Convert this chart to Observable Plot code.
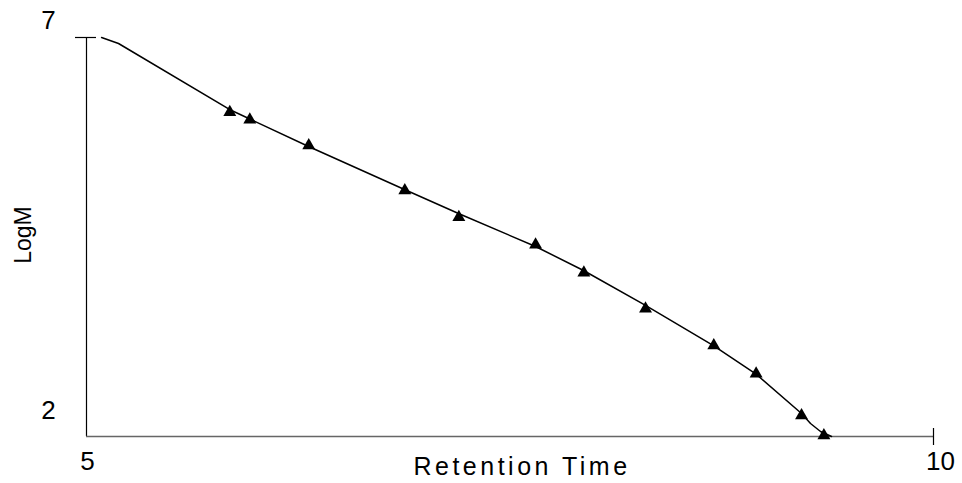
<!DOCTYPE html>
<html>
<head>
<meta charset="utf-8">
<script src="https://cdn.jsdelivr.net/npm/d3@7"></script>
<script src="https://cdn.jsdelivr.net/npm/@observablehq/plot@0.6"></script>
<style>
  html, body { margin: 0; padding: 0; background: #fff; }
  #chart svg { display: block; }
</style>
</head>
<body>
<div id="chart"></div>
<script>
// Calibration standards (retention time, LogM)
const stdTime = [5.846, 5.964, 6.312, 6.879, 7.198, 7.651, 7.936, 8.300, 8.703, 8.953, 9.221, 9.353];
const stdLogM = [6.064, 5.969, 5.647, 5.083, 4.748, 4.402, 4.051, 3.600, 3.140, 2.786, 2.263, 2.013];

// Fitted calibration curve
const fitTime = [5.089, 5.189, 5.844, 6.311, 6.877, 7.196, 7.651, 7.934, 8.300, 8.701, 8.955, 9.221, 9.274, 9.333, 9.398];
const fitLogM = [7.000, 6.925, 6.098, 5.634, 5.095, 4.794, 4.381, 4.080, 3.642, 3.140, 2.777, 2.288, 2.163, 2.063, 2.000];

const xTicks = [5, 10];
const yTicks = [2, 7];
const xTitle = "Retention Time";
const yTitle = "LogM";

const standards = stdTime.map((t, i) => ({t, m: stdLogM[i]}));
const fit = fitTime.map((t, i) => ({t, m: fitLogM[i]}));

const font = "'Liberation Sans', Arial, sans-serif";

const chart = Plot.plot({
  width: 962,
  height: 483,
  marginLeft: 86,
  marginRight: 29,
  marginTop: 37,
  marginBottom: 47,
  style: {fontFamily: font, background: "#fff", color: "#000"},
  x: {domain: [5, 10], axis: null},
  y: {domain: [2, 7], axis: null},
  marks: [
    // y axis line
    Plot.ruleX([xTicks[0]], {y1: yTicks[0], y2: yTicks[1], stroke: "#000", strokeWidth: 1.2}),
    // x axis line
    Plot.ruleY([yTicks[0]], {x1: xTicks[0], x2: xTicks[1], stroke: "#666", strokeWidth: 1.5}),
    // tick at top of y axis
    Plot.ruleY([yTicks[1]], {x1: xTicks[0], x2: xTicks[0], insetLeft: -11, insetRight: -10, stroke: "#000", strokeWidth: 1.2}),
    // tick at right end of x axis
    Plot.ruleX([xTicks[1]], {y1: yTicks[0], y2: yTicks[0], insetTop: -8, insetBottom: -9, stroke: "#000", strokeWidth: 1.2}),
    // fitted curve
    Plot.line(fit, {x: "t", y: "m", curve: "linear", stroke: "#000", strokeWidth: 1.5}),
    // standards
    Plot.dot(standards, {x: "t", y: "m", symbol: "triangle", r: 4.8, fill: "#000", stroke: "none"}),
    // y tick labels
    Plot.text([yTicks[1]], {x: xTicks[0], y: d => d, text: d => String(d), dx: -38, dy: -17, fontSize: 26, fill: "#000"}),
    Plot.text([yTicks[0]], {x: xTicks[0], y: d => d, text: d => String(d), dx: -38, dy: -26, fontSize: 26, fill: "#000"}),
    // x tick labels
    Plot.text([xTicks[0]], {x: d => d, y: yTicks[0], text: d => String(d), dx: 1, dy: 25, fontSize: 26, fill: "#000"}),
    Plot.text([xTicks[1]], {x: d => d, y: yTicks[0], text: d => String(d), dx: 7, dy: 25, fontSize: 26, fill: "#000"}),
    // axis titles
    Plot.text([xTitle], {x: 7.5, y: yTicks[0], text: d => d, dx: 12, dy: 30, fontSize: 25, fill: "#000"}),
    Plot.text([yTitle], {x: xTicks[0], y: 4.5, text: d => d, dx: -63, dy: -2, rotate: -90, fontSize: 23, fill: "#000"})
  ]
});

d3.select(chart).selectAll("text")
  .filter(function() { return this.textContent === xTitle; })
  .attr("letter-spacing", "3.5px");

document.getElementById("chart").appendChild(chart);
</script>
</body>
</html>
